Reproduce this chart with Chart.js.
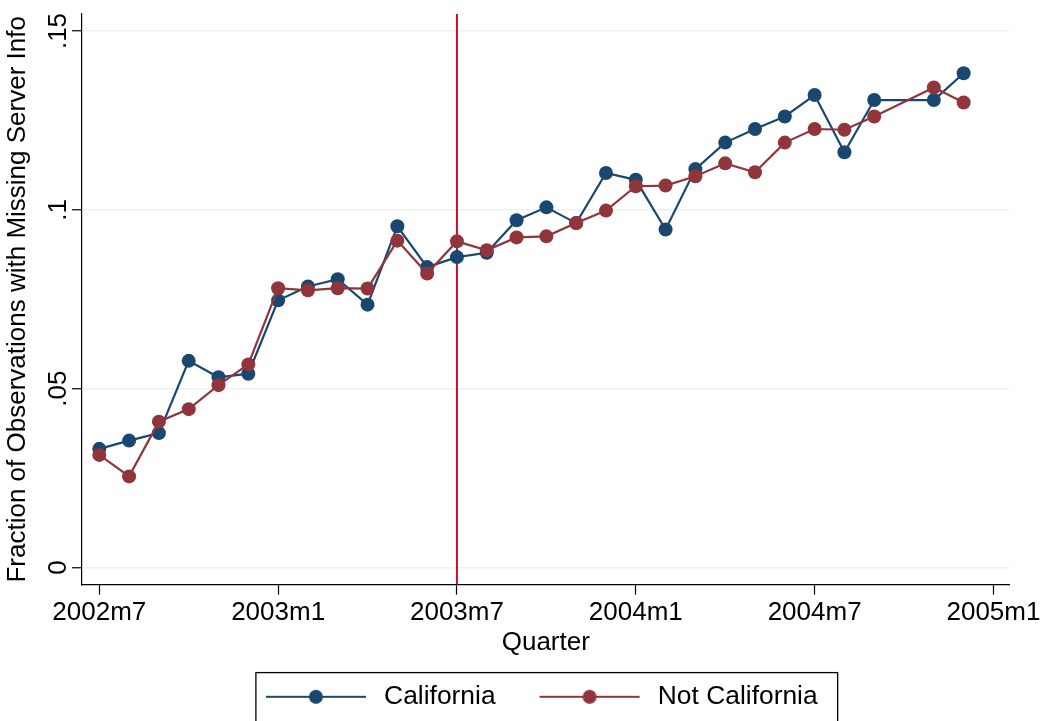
<!DOCTYPE html>
<html>
<head>
<meta charset="utf-8">
<script src="https://cdn.jsdelivr.net/npm/chart.js@4.4.1/dist/chart.umd.min.js"></script>
<style>
  html, body { margin: 0; padding: 0; background: #fff; }
  #wrap { width: 1044px; height: 721px; position: relative; }
</style>
</head>
<body>
<div id="wrap"><canvas id="chart"></canvas></div>
<script>
// months since 2002m7 (2004m10 has no observation)
const monthIndex = [0, 1, 2, 3, 4, 5, 6, 7, 8, 9, 10, 11, 12, 13, 14, 15, 16, 17, 18, 19, 20, 21, 22, 23, 24, 25, 26, 27, 28, 29];

const california = [0.0332, 0.0355, 0.0376, 0.0578, 0.0532, 0.0542, 0.0747, 0.0786, 0.0806, 0.0735,
  0.0954, 0.0840, 0.0868, 0.0880, 0.0971, 0.1007, 0.0963, 0.1103, 0.1084, 0.0945,
  0.1114, 0.1188, 0.1226, 0.1261, 0.1321, 0.1161, 0.1307, null, 0.1307, 0.1382];

const notCalifornia = [0.0315, 0.0255, 0.0408, 0.0443, 0.0510, 0.0568, 0.0781, 0.0775, 0.0781, 0.0780,
  0.0914, 0.0822, 0.0912, 0.0887, 0.0923, 0.0926, 0.0963, 0.0998, 0.1066, 0.1068,
  0.1094, 0.1130, 0.1105, 0.1188, 0.1226, 0.1224, 0.1261, null, 0.1342, 0.1300];

const xTickMonths = [0, 6, 12, 18, 24, 30];
const xTickLabels = ['2002m7', '2003m1', '2003m7', '2004m1', '2004m7', '2005m1'];
const yTickValues = [0, 0.05, 0.1, 0.15];
const yTickLabels = ['0', '.05', '.1', '.15'];

const eventMonth = 12; // 2003m7

const blue = '#1a476f';
const red = '#90353b';

Chart.defaults.font.family = '"Liberation Sans", Arial, Helvetica, sans-serif';
Chart.defaults.font.size = 26;
Chart.defaults.color = '#000';

function toPoints(values) {
  return monthIndex.map((m, i) => ({ x: m, y: values[i] }));
}

// legend symbol: line with a marker in the middle
function legendSymbol(color) {
  const c = document.createElement('canvas');
  c.width = 139;
  c.height = 26;
  const g = c.getContext('2d');
  g.strokeStyle = color;
  g.lineWidth = 2;
  g.beginPath();
  g.moveTo(34, 13);
  g.lineTo(134, 13);
  g.stroke();
  g.fillStyle = color;
  g.beginPath();
  g.arc(84, 13, 7, 0, Math.PI * 2);
  g.fill();
  return c;
}
const legendImages = [legendSymbol(blue), legendSymbol(red)];

const eventLine = {
  id: 'eventLine',
  beforeDatasetsDraw(chart) {
    const { ctx, chartArea, scales } = chart;
    const x = scales.x.getPixelForValue(eventMonth);
    ctx.save();
    ctx.strokeStyle = '#c8102e';
    ctx.lineWidth = 2;
    ctx.beginPath();
    ctx.moveTo(x, chartArea.top);
    ctx.lineTo(x, chartArea.bottom);
    ctx.stroke();
    ctx.restore();
  }
};

const legendFrame = {
  id: 'legendFrame',
  afterLayout(chart) {
    chart.legend.left -= 21;
    chart.legend.right -= 21;
  },
  afterDraw(chart) {
    const lg = chart.legend;
    const hb = lg.legendHitBoxes;
    if (!hb || !hb.length) return;
    const last = hb[hb.length - 1];
    const left = hb[0].left + 24;
    const right = last.left + last.width + 20;
    const ctx = chart.ctx;
    ctx.save();
    ctx.strokeStyle = '#000';
    ctx.lineWidth = 1.3;
    ctx.strokeRect(left, lg.top - 1, right - left, 70);
    ctx.restore();
  }
};

new Chart(document.getElementById('chart'), {
  type: 'line',
  data: {
    datasets: [{
      label: 'California',
      data: toPoints(california),
      borderColor: blue,
      backgroundColor: blue,
      borderWidth: 2.2,
      pointRadius: 7,
      pointHoverRadius: 7,
      pointBorderWidth: 0,
      spanGaps: true,
      order: 1
    }, {
      label: 'Not California',
      data: toPoints(notCalifornia),
      borderColor: red,
      backgroundColor: red,
      borderWidth: 2.2,
      pointRadius: 7,
      pointHoverRadius: 7,
      pointBorderWidth: 0,
      spanGaps: true,
      order: 0
    }]
  },
  options: {
    responsive: true,
    maintainAspectRatio: false,
    animation: false,
    layout: { padding: { top: 14, right: 33, bottom: 1, left: 0 } },
    scales: {
      x: {
        type: 'linear',
        min: -0.58,
        max: 30.54,
        afterBuildTicks: scale => { scale.ticks = xTickMonths.map(v => ({ value: v })); },
        afterFit: scale => { scale.height = 89; },
        ticks: {
          autoSkip: false,
          maxRotation: 0,
          padding: 3,
          callback: (value, index) => xTickLabels[index]
        },
        grid: {
          drawOnChartArea: false,
          drawTicks: true,
          tickLength: 10,
          tickColor: '#000',
          tickWidth: 1.2
        },
        border: { display: true, color: '#000', width: 1.2 },
        title: {
          display: true,
          text: 'Quarter',
          padding: { top: 0, bottom: 15 }
        }
      },
      y: {
        min: -0.00475,
        max: 0.15475,
        afterBuildTicks: scale => { scale.ticks = yTickValues.map(v => ({ value: v })); },
        afterFit: scale => { scale.width = 82; },
        ticks: {
          minRotation: 90,
          maxRotation: 90,
          crossAlign: 'center',
          padding: -4.5,
          callback: (value, index) => yTickLabels[index]
        },
        grid: {
          color: '#eaf2f3',
          lineWidth: 1.5,
          tickLength: 10,
          tickColor: '#000',
          tickWidth: 1.2
        },
        border: { display: true, color: '#000', width: 1.2 },
        title: {
          display: true,
          text: 'Fraction of Observations with Missing Server Info',
          padding: { top: 2, bottom: 0 }
        }
      }
    },
    plugins: {
      tooltip: { enabled: false },
      legend: {
        position: 'bottom',
        fullSize: false,
        labels: {
          usePointStyle: true,
          pointStyleWidth: 139,
          padding: 10,
          color: '#000',
          font: { size: 26.4 },
          generateLabels: chart => {
            const items = Chart.defaults.plugins.legend.labels.generateLabels(chart);
            items.sort((a, b) => a.datasetIndex - b.datasetIndex);
            items.forEach(it => { it.pointStyle = legendImages[it.datasetIndex]; });
            return items;
          }
        }
      }
    }
  },
  plugins: [eventLine, legendFrame]
});
</script>
</body>
</html>
